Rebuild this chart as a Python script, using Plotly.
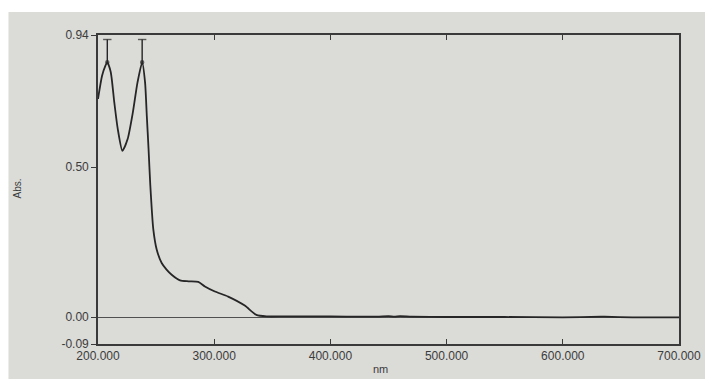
import plotly.graph_objects as go

# Spectrum
wavelength_nm = [200, 203.5, 206.4, 208, 211, 214, 217, 221, 225.5, 230, 234, 238,
                 240.5, 242, 243.5, 245, 247.6, 250.5, 254.8, 259, 263.4, 270.6,
                 278, 286.3, 292, 300.6, 312, 326.3, 336.3, 345, 360, 400, 440,
                 450, 455, 460, 470, 500, 550, 600, 633, 636, 660, 700]
absorbance = [0.727, 0.804, 0.838, 0.849, 0.816, 0.716, 0.627, 0.554, 0.593, 0.682,
              0.782, 0.849, 0.782, 0.671, 0.560, 0.440, 0.292, 0.225, 0.180, 0.158,
              0.141, 0.122, 0.119, 0.117, 0.102, 0.085, 0.068, 0.038, 0.007, 0.002,
              0.002, 0.002, 0.001, 0.003, 0.001, 0.003, 0.001, 0.0, 0.0, -0.001,
              0.001, 0.001, -0.001, -0.001]

peak_nm = [208, 238]
peak_abs = [0.849, 0.849]
peak_top = 0.925

x_ticks = [200, 300, 400, 500, 600, 700]
x_tick_text = ["200.000", "300.000", "400.000", "500.000", "600.000", "700.000"]
y_ticks = [-0.09, 0.0, 0.5, 0.94]
y_tick_text = ["-0.09", "0.00", "0.50", "0.94"]

# page has an 8px body margin, so the figure is offset by (8, 8)
OFF = 8
W, H = 713 - OFF, 379 - OFF
L, R, T, B = 98 - OFF, 682 - OFF, 35 - OFF, 344 - OFF
pw, ph = R - L, B - T


def px(xp):
    return (xp - OFF - L) / pw


def py(yp):
    return (B - (yp - OFF)) / ph


axis_col = "#3a3a3a"
text_col = "#3c3c3c"
font = dict(family="Liberation Sans, Arial, sans-serif", size=12, color=text_col)

fig = go.Figure()
fig.add_trace(go.Scatter(
    x=wavelength_nm, y=absorbance, mode="lines",
    line=dict(color="#262626", width=1.8, shape="spline", smoothing=0.6),
    hoverinfo="skip", showlegend=False))

for pn, pa in zip(peak_nm, peak_abs):
    fig.add_trace(go.Scatter(
        x=[pn, pn], y=[pa, peak_top], mode="lines+markers",
        line=dict(color="#262626", width=1.4),
        marker=dict(symbol=["circle", "line-ew"], size=[3, 6],
                    color="#262626", line=dict(color="#262626", width=1.4)),
        hoverinfo="skip", showlegend=False))

# screen background of the photo
fig.add_shape(type="rect", xref="paper", yref="paper",
              x0=px(OFF), x1=px(715), y0=py(381), y1=py(12),
              fillcolor="#dbdbd8", line=dict(width=0), layer="below")

fig.add_annotation(text="Abs.", xref="paper", yref="paper",
                   x=px(17), y=py(188), xanchor="center", yanchor="middle",
                   textangle=-90, showarrow=False,
                   font=dict(family=font["family"], size=10, color=text_col))
fig.add_annotation(text="nm", xref="paper", yref="paper",
                   x=px(382), y=py(369), xanchor="center", yanchor="middle",
                   showarrow=False, font=dict(family=font["family"], size=11,
                                              color=text_col))

fig.update_layout(
    width=W, height=H,
    margin=dict(l=L, r=W - R, t=T, b=H - B, pad=0),
    paper_bgcolor="#ffffff", plot_bgcolor="#dbdbd8",
    font=font, showlegend=False,
    xaxis=dict(range=[200, 700], tickvals=x_ticks, ticktext=x_tick_text,
               ticks="inside", ticklen=5, tickwidth=1.4, tickcolor=axis_col,
               showline=True, linecolor=axis_col, linewidth=1.6, mirror="ticks",
               showgrid=False, zeroline=False, tickfont=font),
    yaxis=dict(range=[-0.09, 0.94], tickvals=y_ticks, ticktext=y_tick_text,
               ticks="outside", ticklen=5, tickwidth=1.4, tickcolor=axis_col,
               showline=True, linecolor=axis_col, linewidth=1.6, mirror=True,
               showgrid=False, zeroline=True, zerolinecolor="#505050",
               zerolinewidth=1.2, tickfont=font),
)

fig.write_html("out.html")
